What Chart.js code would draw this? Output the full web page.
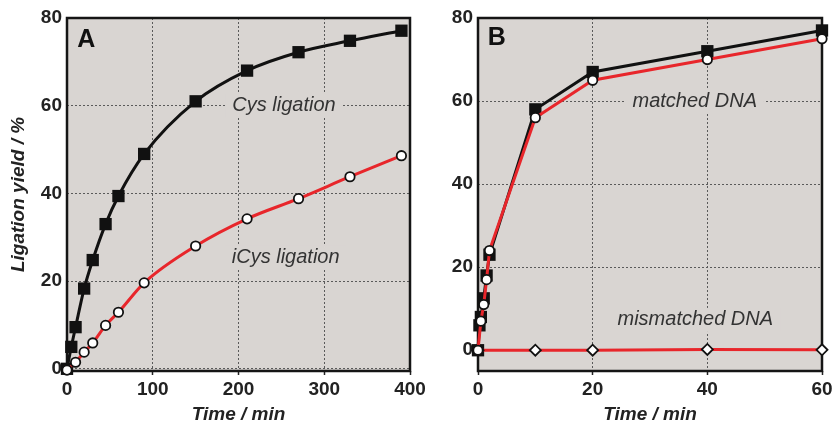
<!DOCTYPE html>
<html>
<head>
<meta charset="utf-8">
<script src="https://cdn.jsdelivr.net/npm/chart.js@4.4.1/dist/chart.umd.min.js"></script>
<style>
  html, body { margin: 0; padding: 0; background: #fff; }
  #wrap { position: relative; width: 835px; height: 426px; overflow: hidden; }
  .panel { position: absolute; top: 0; height: 426px; }
</style>
</head>
<body>
<div id="wrap">
  <div class="panel" style="left:0;width:440px"><canvas id="chartA"></canvas></div>
  <div class="panel" style="left:420px;width:415px"><canvas id="chartB"></canvas></div>
</div>
<script>
// Panel A - ligation with Cys / iCys (time in min)
const cysTime   = [0, 5, 10, 20, 30, 45, 60, 90, 150, 210, 270, 330, 390];
const cysYield  = [0, 5, 9.5, 18.3, 24.8, 33, 39.4, 49, 61, 68, 72.2, 74.8, 77.1];
const icysTime  = [0, 10, 20, 30, 45, 60, 90, 150, 210, 270, 330, 390];
const icysYield = [-0.3, 1.5, 3.8, 5.9, 9.9, 12.9, 19.6, 28, 34.2, 38.8, 43.8, 48.6];

// Panel B - matched vs mismatched DNA
const matchTime   = [0, 0.25, 0.5, 1, 1.5, 2, 10, 20, 40, 60];
const matchBlack  = [0, 6, 8, 12.5, 18, 23, 58, 67, 72, 77];
const matchRTime  = [0, 0.5, 1, 1.5, 2, 10, 20, 40, 60];
const matchRed    = [0, 7, 11, 17, 24, 56, 65, 70, 75];
const mmTime      = [0, 10, 20, 40, 60];
const mmYield     = [0, 0, 0, 0.2, 0.1];

const xTicksA = [0, 100, 200, 300, 400];
const xTicksB = [0, 20, 40, 60];
const yTicks  = [0, 20, 40, 60, 80];

const PLOT_BG = '#d9d5d2';
const RED = '#e8262b';
const FONT = "'Liberation Sans', Arial, sans-serif";

const pts = (xs, ys) => xs.map((x, i) => ({ x, y: ys[i] }));

// background, text boxes and frame of each panel
const panelDeco = {
  id: 'panelDeco',
  beforeDraw(chart) {
    const { ctx, chartArea: a } = chart;
    ctx.save();
    ctx.fillStyle = PLOT_BG;
    ctx.fillRect(a.left, a.top, a.right - a.left, a.bottom - a.top);
    ctx.restore();
  },
  beforeDatasetsDraw(chart, args, opts) {
    const { ctx, chartArea: a, scales } = chart;
    ctx.save();
    (opts.notes || []).forEach(n => {
      const px = scales.x.getPixelForValue(n.x);
      const py = scales.y.getPixelForValue(n.y);
      ctx.font = n.font;
      ctx.textBaseline = 'middle';
      ctx.textAlign = n.align || 'center';
      if (n.box) {
        const w = ctx.measureText(n.text).width + 14;
        ctx.fillStyle = PLOT_BG;
        ctx.fillRect(px - w / 2, py - 12, w, 24);
      }
      ctx.fillStyle = n.color;
      ctx.fillText(n.text, px, py);
    });
    ctx.lineWidth = 2.5;
    ctx.strokeStyle = '#151515';
    ctx.strokeRect(a.left, a.top, a.right - a.left, a.bottom - a.top);
    ctx.restore();
  }
};

function xAxis(max, ticks) {
  return {
    type: 'linear', min: 0, max: max,
    afterBuildTicks: s => { s.ticks = ticks.map(v => ({ value: v })); },
    afterFit: s => { s.height = 55; s.paddingLeft = 0; s.paddingRight = 0; },
    grid: { color: '#5a5a5a', lineWidth: 1, tickLength: 4, tickColor: '#222', tickWidth: 1.5 },
    border: { display: false, dash: [2, 2] },
    ticks: { color: '#222', padding: 3, maxRotation: 0, font: { family: FONT, size: 19, weight: 'bold' } },
    title: { display: true, text: 'Time / min', color: '#222', padding: 0,
      font: { family: FONT, size: 19, weight: 'bold', style: 'italic' } }
  };
}

function yAxis(min, width, withTitle) {
  return {
    type: 'linear', min: min, max: 80,
    afterBuildTicks: s => { s.ticks = yTicks.map(v => ({ value: v })); },
    afterFit: s => { s.width = width; s.paddingTop = 0; s.paddingBottom = 0; },
    grid: { color: '#5a5a5a', lineWidth: 1, tickLength: 2, tickColor: 'rgba(0,0,0,0)' },
    border: { display: false, dash: [2, 2] },
    ticks: { color: '#222', padding: 3, font: { family: FONT, size: 19, weight: 'bold' } },
    title: { display: withTitle, text: 'Ligation yield / %', color: '#222', padding: { top: 7, bottom: 0 },
      font: { family: FONT, size: 19, weight: 'bold', style: 'italic' } }
  };
}

const squareSet = (data, tension) => ({
  data, borderColor: '#111', borderWidth: 3, pointStyle: 'rect', pointRadius: 8.7,
  pointBackgroundColor: '#111', pointBorderColor: '#111', pointBorderWidth: 0, clip: false, order: 2,
  tension, cubicInterpolationMode: tension ? 'monotone' : 'default'
});
const circleSet = (data, tension, style = 'circle', r = 4.7) => ({
  data, borderColor: RED, borderWidth: 3, pointStyle: style, pointRadius: r,
  pointBackgroundColor: '#fff', pointBorderColor: '#111', pointBorderWidth: 1.8, clip: false, order: 1,
  tension, cubicInterpolationMode: tension ? 'monotone' : 'default'
});

const italic = `italic 20px ${FONT}`;
const bold = `bold 25px ${FONT}`;

new Chart(document.getElementById('chartA'), {
  type: 'line',
  data: { datasets: [squareSet(pts(cysTime, cysYield), 0.4), circleSet(pts(icysTime, icysYield), 0.4)] },
  options: {
    responsive: true, maintainAspectRatio: false, animation: false,
    layout: { padding: { top: 18, right: 30, bottom: 0, left: 0 } },
    scales: { x: xAxis(400, xTicksA), y: yAxis(-0.5, 67, true) },
    plugins: {
      legend: { display: false }, tooltip: { enabled: false },
      panelDeco: { notes: [
        { text: 'A', x: 12, y: 75, font: bold, color: '#111', align: 'left' },
        { text: 'Cys ligation', x: 253, y: 60, font: italic, color: '#333', box: true },
        { text: 'iCys ligation', x: 255, y: 25.3, font: italic, color: '#333', box: true }
      ] }
    }
  },
  plugins: [panelDeco]
});

new Chart(document.getElementById('chartB'), {
  type: 'line',
  data: { datasets: [
    squareSet(pts(matchTime, matchBlack), 0),
    circleSet(pts(matchRTime, matchRed), 0),
    circleSet(pts(mmTime, mmYield), 0, 'rectRot', 5.5)
  ] },
  options: {
    responsive: true, maintainAspectRatio: false, animation: false,
    layout: { padding: { top: 18, right: 13, bottom: 0, left: 0 } },
    scales: { x: xAxis(60, xTicksB), y: yAxis(-5, 58, false) },
    plugins: {
      legend: { display: false }, tooltip: { enabled: false },
      panelDeco: { notes: [
        { text: 'B', x: 1.7, y: 75.2, font: bold, color: '#111', align: 'left' },
        { text: 'matched DNA', x: 37.8, y: 60, font: italic, color: '#333', box: true },
        { text: 'mismatched DNA', x: 37.9, y: 7.3, font: italic, color: '#333', box: true }
      ] }
    }
  },
  plugins: [panelDeco]
});
</script>
</body>
</html>
